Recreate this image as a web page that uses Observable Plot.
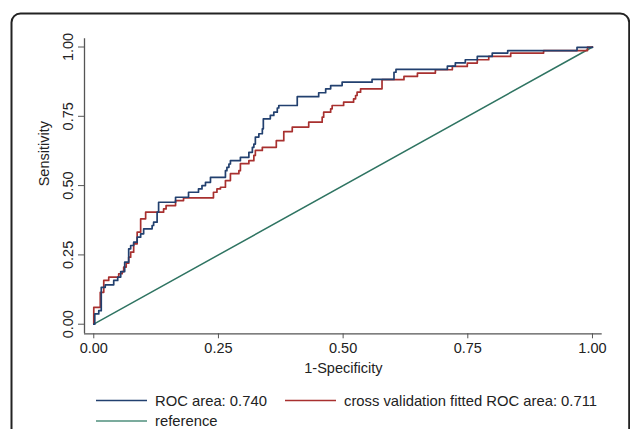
<!DOCTYPE html>
<html>
<head>
<meta charset="utf-8">
<script src="https://cdn.jsdelivr.net/npm/d3@7"></script>
<script src="https://cdn.jsdelivr.net/npm/@observablehq/plot@0.6"></script>
<style>
  html, body { margin: 0; padding: 0; background: #fff; }
  #chart { width: 630px; height: 429px; overflow: hidden; }
  svg { font-family: Arial, "Liberation Sans", sans-serif; }
</style>
</head>
<body>
<div id="chart"></div>
<script>
// ROC curve (model) – step corners: [1-specificity, sensitivity]
const rocX = [0, 0.002, 0.01, 0.015, 0.023, 0.04, 0.048, 0.054, 0.062, 0.07, 0.074, 0.08, 0.087, 0.094, 0.10, 0.117, 0.12, 0.127, 0.13, 0.164, 0.19, 0.21, 0.217, 0.224, 0.234, 0.264, 0.267, 0.271, 0.274, 0.294, 0.311, 0.318, 0.321, 0.324, 0.331, 0.338, 0.34, 0.354, 0.361, 0.368, 0.371, 0.408, 0.451, 0.465, 0.475, 0.498, 0.558, 0.602, 0.606, 0.709, 0.725, 0.745, 0.769, 0.799, 0.83, 0.969, 1];
const rocY = [0, 0.037, 0.049, 0.133, 0.142, 0.158, 0.17, 0.19, 0.224, 0.272, 0.284, 0.296, 0.314, 0.326, 0.344, 0.356, 0.368, 0.404, 0.44, 0.458, 0.476, 0.488, 0.5, 0.512, 0.53, 0.554, 0.566, 0.578, 0.59, 0.602, 0.62, 0.638, 0.65, 0.675, 0.687, 0.705, 0.741, 0.753, 0.765, 0.78, 0.789, 0.821, 0.835, 0.849, 0.861, 0.873, 0.883, 0.909, 0.919, 0.931, 0.943, 0.954, 0.966, 0.978, 0.987, 0.999, 1];

// cross-validation fitted ROC curve
const cvX = [0, 0, 0.013, 0.02, 0.03, 0.05, 0.057, 0.06, 0.065, 0.07, 0.074, 0.08, 0.087, 0.094, 0.104, 0.14, 0.145, 0.164, 0.18, 0.24, 0.247, 0.254, 0.264, 0.274, 0.291, 0.294, 0.311, 0.321, 0.324, 0.338, 0.366, 0.381, 0.398, 0.431, 0.458, 0.461, 0.475, 0.478, 0.501, 0.521, 0.525, 0.528, 0.535, 0.578, 0.622, 0.649, 0.685, 0.719, 0.749, 0.769, 0.792, 0.836, 0.902, 0.99, 1];
const cvY = [0, 0.061, 0.115, 0.158, 0.17, 0.182, 0.19, 0.206, 0.22, 0.242, 0.26, 0.29, 0.332, 0.38, 0.404, 0.416, 0.428, 0.446, 0.456, 0.476, 0.488, 0.494, 0.518, 0.543, 0.554, 0.579, 0.59, 0.609, 0.627, 0.638, 0.662, 0.695, 0.711, 0.729, 0.747, 0.765, 0.777, 0.789, 0.801, 0.813, 0.825, 0.837, 0.849, 0.882, 0.894, 0.906, 0.918, 0.93, 0.942, 0.954, 0.966, 0.978, 0.987, 1, 1];

// reference diagonal
const refX = [0, 1];
const refY = [0, 1];

const xTicks = [0, 0.25, 0.5, 0.75, 1];
const yTicks = [0, 0.25, 0.5, 0.75, 1];

const seriesNames = ["ROC area: 0.740", "cross validation fitted ROC area: 0.711", "reference"];
const seriesColors = ["#22406f", "#a8302f", "#2f7462"];

const xDomain = [-0.0186, 1.0195];
const yDomain = [-0.0346, 1.0296];

const toRows = (xs, ys) => xs.map((x, i) => ({x, y: ys[i]}));
const roc = toRows(rocX, rocY);
const cv = toRows(cvX, cvY);
const ref = toRows(refX, refY);

const W = 630, H = 429;
const mL = 84, mR = 28.3, mT = 38.3, mB = 95.7;

const fs = 14.5;
const fsLegend = 14.8;
const plot = Plot.plot({
  width: W,
  height: H,
  marginLeft: mL,
  marginRight: mR,
  marginTop: mT,
  marginBottom: mB,
  style: {fontSize: fs + "px", fontFamily: "Arial, 'Liberation Sans', sans-serif", color: "#222", background: "#fff"},
  x: {domain: xDomain},
  y: {domain: yDomain},
  marks: [
    // outer rounded frame
    Plot.frame({stroke: "#222", strokeWidth: 2, rx: 9, insetLeft: -73, insetTop: -25.3, insetRight: -27, insetBottom: -130}),
    // axis lines
    Plot.ruleY([yDomain[0]], {stroke: "#555", strokeWidth: 1.3}),
    Plot.ruleX([xDomain[0]], {stroke: "#555", strokeWidth: 1.3}),
    Plot.axisX(xTicks, {tickFormat: d3.format(".2f"), tickSize: 5, tickPadding: 4, stroke: "#555", fill: "#222", fontSize: fs, label: null}),
    Plot.axisY(yTicks, {tickFormat: d3.format(".2f"), tickSize: 6, tickPadding: 6, tickRotate: -90, stroke: "#555", fill: "#222", fontSize: fs, label: null}),
    Plot.text(["1-Specificity"], {frameAnchor: "bottom", dy: 39, fill: "#222", fontSize: fs}),
    Plot.text(["Sensitivity"], {frameAnchor: "left", dx: -40, rotate: -90, fill: "#222", fontSize: fs}),
    // curves
    Plot.line(ref, {x: "x", y: "y", stroke: seriesColors[2], strokeWidth: 1.5}),
    Plot.line(cv, {x: "x", y: "y", curve: "step-after", stroke: seriesColors[1], strokeWidth: 1.7}),
    Plot.line(roc, {x: "x", y: "y", curve: "step-after", stroke: seriesColors[0], strokeWidth: 1.7})
  ]
});

// legend inside the frame, below the axis title
const svg = d3.select(plot);
const legend = svg.append("g").attr("font-size", fsLegend + "px").attr("fill", "#222").attr("text-anchor", "start");
const items = [
  {name: seriesNames[0], color: seriesColors[0], lx: 96, ly: 400.5},
  {name: seriesNames[1], color: seriesColors[1], lx: 285, ly: 400.5},
  {name: seriesNames[2], color: "#4f8f7c", lx: 96, ly: 421}
];
items.forEach(d => {
  legend.append("line").attr("x1", d.lx).attr("x2", d.lx + 51).attr("y1", d.ly).attr("y2", d.ly)
    .attr("stroke", d.color).attr("stroke-width", 1.6);
  legend.append("text").attr("x", d.lx + 59).attr("y", d.ly).attr("dy", "0.36em")
    .attr("text-anchor", "start").style("font-size", fsLegend + "px").text(d.name);
});

document.getElementById("chart").appendChild(plot);
</script>
</body>
</html>
